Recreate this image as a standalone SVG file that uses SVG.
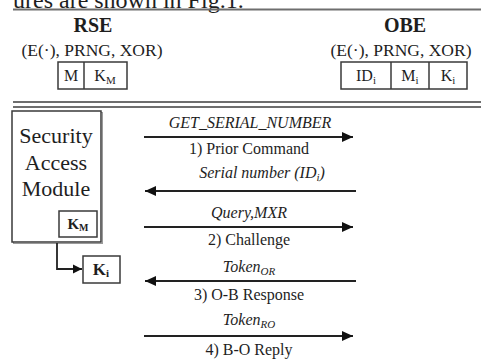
<svg xmlns="http://www.w3.org/2000/svg" width="481" height="360" viewBox="0 0 481 360">
  <style>
    text { font-family: "Liberation Serif", "Times New Roman", serif; fill: #1e1e1e; }
    .title { font-size: 20px; font-weight: bold; text-anchor: middle; }
    .func { font-size: 17.5px; text-anchor: middle; }
    .cell { font-size: 16px; text-anchor: middle; }
    .sam { font-size: 22px; text-anchor: middle; }
    .key { font-size: 15px; font-weight: bold; text-anchor: middle; }
    .msg { font-size: 16px; font-style: italic; text-anchor: middle; }
    .step { font-size: 16px; text-anchor: middle; }
    .box { fill: #fff; stroke: #3a3a3a; stroke-width: 1.5; }
    .rule { stroke: #6e6e6e; stroke-width: 2; }
    .flow { fill: none; stroke: #222; stroke-width: 1.8; }
  </style>
  <defs>
    <marker id="arrow" markerUnits="userSpaceOnUse" markerWidth="12" markerHeight="10" refX="11" refY="5" orient="auto">
      <path d="M0,0 L11,5 L0,10 z" fill="#111"/>
    </marker>
    <marker id="arrowSmall" markerUnits="userSpaceOnUse" markerWidth="10" markerHeight="10" refX="9" refY="5" orient="auto">
      <path d="M0,0.5 L9,5 L0,9.5 z" fill="#111"/>
    </marker>
  </defs>

  <rect width="481" height="360" fill="#fff"/>

  <!-- running text above the figure -->
  <text x="13" y="8" style="font-size:24px">ures are shown in Fig.1.</text>
  <line class="rule" x1="13" y1="9.5" x2="481" y2="9.5"/>

  <!-- roadside equipment -->
  <g id="rse">
    <text class="title" x="93" y="32">RSE</text>
    <text class="func" x="92" y="56">(E(·), PRNG, XOR)</text>
    <rect class="box" x="58" y="62" width="69" height="27"/>
    <line class="box" x1="84" y1="62" x2="84" y2="89"/>
    <text class="cell" x="71" y="81">M</text>
    <text class="cell" x="105" y="81">K<tspan font-size="11" dy="3">M</tspan></text>
  </g>

  <!-- on-board equipment -->
  <g id="obe">
    <text class="title" x="405" y="32">OBE</text>
    <text class="func" x="401" y="56">(E(·), PRNG, XOR)</text>
    <rect class="box" x="341" y="62" width="126" height="27"/>
    <line class="box" x1="391" y1="62" x2="391" y2="89"/>
    <line class="box" x1="429" y1="62" x2="429" y2="89"/>
    <text class="cell" x="366" y="81">ID<tspan font-size="11" dy="3">i</tspan></text>
    <text class="cell" x="410" y="81">M<tspan font-size="11" dy="3">i</tspan></text>
    <text class="cell" x="448" y="81">K<tspan font-size="11" dy="3">i</tspan></text>
  </g>

  <!-- double separator -->
  <line class="rule" x1="13" y1="102" x2="481" y2="102"/>
  <line class="rule" x1="13" y1="107" x2="481" y2="107"/>

  <!-- security access module -->
  <g id="sam">
    <rect x="13.5" y="112.5" width="89" height="131" fill="none" stroke="#9a9a9a" stroke-width="1"/>
    <rect class="box" x="12" y="111" width="89" height="131" fill="none"/>
    <text class="sam" x="56" y="143">Security</text>
    <text class="sam" x="56" y="170">Access</text>
    <text class="sam" x="56" y="196">Module</text>
    <rect class="box" x="59" y="211" width="38" height="26"/>
    <text class="key" x="78" y="229">K<tspan font-size="10" dy="2">M</tspan></text>
  </g>

  <!-- derived key -->
  <g id="ki">
    <rect class="box" x="83" y="256" width="37" height="27"/>
    <text class="key" x="101" y="275" style="font-size:17px">K<tspan font-size="11" dy="2">i</tspan></text>
  </g>

  <!-- connectors and message labels -->
  <g id="connectors">
    <path class="flow" d="M57,243 V269 H82" marker-end="url(#arrowSmall)" stroke-width="1.5"/>

    <line class="flow" x1="144" y1="137" x2="353" y2="137" marker-end="url(#arrow)"/>
    <text class="msg" x="250" y="128">GET_SERIAL_NUMBER</text>
    <text class="step" x="249" y="154">1)<tspan dx="4">Prior Command</tspan></text>

    <line class="flow" x1="356" y1="191" x2="145" y2="191" marker-end="url(#arrow)"/>
    <text class="msg" x="262" y="178">Serial number (ID<tspan font-size="11" dy="3">i</tspan><tspan dy="-3">)</tspan></text>

    <line class="flow" x1="144" y1="227" x2="353" y2="227" marker-end="url(#arrow)"/>
    <text class="msg" x="249" y="218">Query,MXR</text>
    <text class="step" x="249" y="245">2)<tspan dx="4">Challenge</tspan></text>

    <line class="flow" x1="356" y1="281" x2="145" y2="281" marker-end="url(#arrow)"/>
    <text class="msg" x="249" y="272">Token<tspan font-size="11" dy="3">OR</tspan></text>
    <text class="step" x="249" y="300">3)<tspan dx="4">O-B Response</tspan></text>

    <line class="flow" x1="144" y1="336" x2="353" y2="336" marker-end="url(#arrow)"/>
    <text class="msg" x="249" y="325">Token<tspan font-size="11" dy="3">RO</tspan></text>
    <text class="step" x="249" y="355">4)<tspan dx="4">B-O Reply</tspan></text>
  </g>
</svg>
